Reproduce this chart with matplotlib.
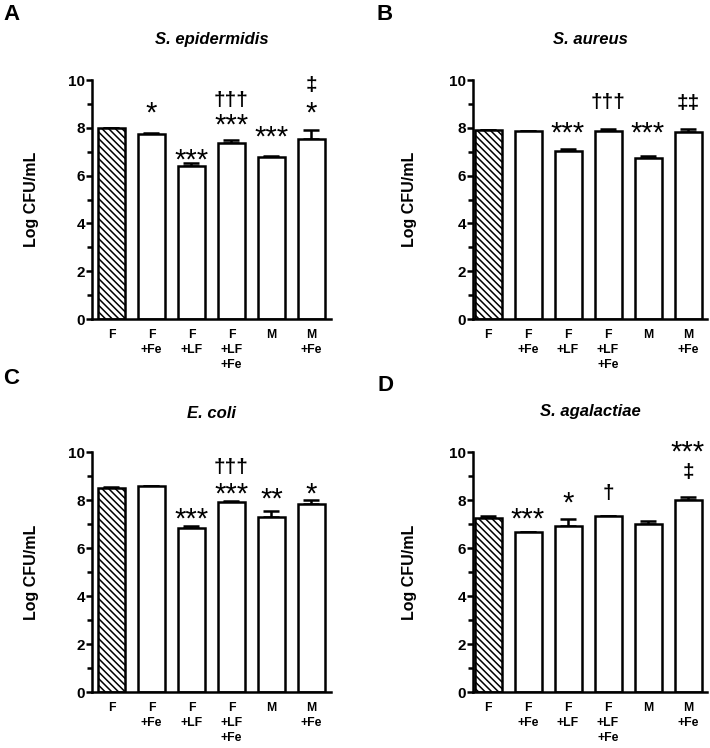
import matplotlib
matplotlib.use("Agg")
import matplotlib.pyplot as plt
import numpy as np
from matplotlib.ticker import MultipleLocator

plt.rcParams['font.family'] = ['Liberation Sans', 'DejaVu Sans']
plt.rcParams['hatch.linewidth'] = 1.1

categories = ['F', 'F\n+Fe', 'F\n+LF', 'F\n+LF\n+Fe', 'M', 'M\n+Fe']

titles = ['S. epidermidis', 'S. aureus', 'E. coli', 'S. agalactiae']
letters = ['A', 'B', 'C', 'D']

mean_A = [7.98, 7.72, 6.41, 7.38, 6.78, 7.54]
err_A = [0.02, 0.06, 0.12, 0.10, 0.05, 0.38]
mean_B = [7.92, 7.85, 7.04, 7.88, 6.75, 7.82]
err_B = [0.00, 0.02, 0.06, 0.07, 0.08, 0.15]
mean_C = [8.50, 8.57, 6.84, 7.91, 7.31, 7.82]
err_C = [0.05, 0.03, 0.09, 0.04, 0.23, 0.16]
mean_D = [7.24, 6.65, 6.91, 7.35, 6.98, 7.99]
err_D = [0.10, 0.00, 0.30, 0.00, 0.13, 0.15]

# significance marks: (bar index, text, centre height)
sig_A = [(1, '*', 8.88), (2, '***', 6.89), (3, '***', 8.35), (3, '†††', 9.16),
         (4, '***', 7.87), (5, '*', 8.86), (5, '‡', 9.79)]
sig_B = [(2, '***', 8.02), (3, '†††', 9.07), (4, '***', 8.02), (5, '‡‡', 9.04)]
sig_C = [(2, '***', 7.48), (3, '***', 8.52), (3, '†††', 9.38), (4, '**', 8.28),
         (5, '*', 8.52)]
sig_D = [(1, '***', 7.46), (2, '*', 8.13), (3, '†', 8.29), (5, '***', 10.24),
         (5, '‡', 9.17)]

W, H = 710, 748
fig = plt.figure(figsize=(W / 100, H / 100), dpi=100)

# axes rectangles in pixels: left, right, bottom(y of 0), top(y of 10)
rects = [(92, 331, 319, 80), (473, 707, 319, 80), (92, 331, 692, 452), (473, 707, 692, 452)]
xlims = [(-0.4875, 5.49), (-0.375, 5.475), (-0.4875, 5.49), (-0.375, 5.475)]
ylab_x = [-0.222, -0.239, -0.222, -0.239]
title_y = [1.1715, 1.1715, 1.161, 1.168]
letter_pos = [(3, 4), (377, 4), (3, 368), (378, 375)]

means = [mean_A, mean_B, mean_C, mean_D]
errs = [err_A, err_B, err_C, err_D]
sigs = [sig_A, sig_B, sig_C, sig_D]

lw = 1.8
for i in range(4):
    l, r, b, t = rects[i]
    ax = fig.add_axes([l / W, 1 - b / H, (r - l) / W, (b - t) / H])
    x = np.arange(len(categories))
    m = np.array(means[i])
    e = np.array(errs[i])
    ax.errorbar(x, m, yerr=[np.zeros_like(e), e], fmt='none', ecolor='black',
                elinewidth=lw, capsize=6, capthick=lw, zorder=1)
    bars = ax.bar(x, m, width=0.675, color='white', edgecolor='black',
                  linewidth=lw, zorder=2)
    bars[0].set_hatch('\\\\\\\\\\')
    ax.set_xlim(*xlims[i])
    ax.set_ylim(0, 10)
    for s in ['top', 'right']:
        ax.spines[s].set_visible(False)
    for s in ['left', 'bottom']:
        ax.spines[s].set_linewidth(lw)
    ax.yaxis.set_major_locator(MultipleLocator(2))
    ax.yaxis.set_minor_locator(MultipleLocator(1))
    ax.tick_params(axis='y', which='major', length=4, width=lw, pad=1,
                   labelsize=11)
    ax.tick_params(axis='y', which='minor', length=3.5, width=lw)
    for lab in ax.get_yticklabels():
        lab.set_fontweight('bold')
    ax.set_xticks(x)
    ax.set_xticklabels(categories, fontsize=8.8, fontweight='bold',
                       linespacing=1.3, ha='center', va='top')
    ax.tick_params(axis='x', length=0, pad=7.5)
    ax.set_ylabel('Log CFU/mL', fontsize=11.5, fontweight='bold')
    ax.yaxis.set_label_coords(ylab_x[i], 0.5)
    ax.text(0.5, title_y[i], titles[i], transform=ax.transAxes, ha='center',
            va='center', fontsize=12, fontweight='bold', style='italic')
    for idx, txt, yc in sigs[i]:
        if '*' in txt:
            fs = 21
            off = 0.50 * fs
            fw = 'normal'
        else:
            fs = 15
            off = 0.27 * fs
            fw = 'bold'
        ax.annotate(txt, xy=(x[idx], yc), xytext=(0, -off),
                    textcoords='offset points', ha='center', va='baseline',
                    fontsize=fs, fontweight=fw, annotation_clip=False)

for (px, py), let in zip(letter_pos, letters):
    fig.text(px / W, 1 - py / H, let, ha='left', va='top', fontsize=16,
             fontweight='bold')

fig.savefig('out.png', dpi=100)
